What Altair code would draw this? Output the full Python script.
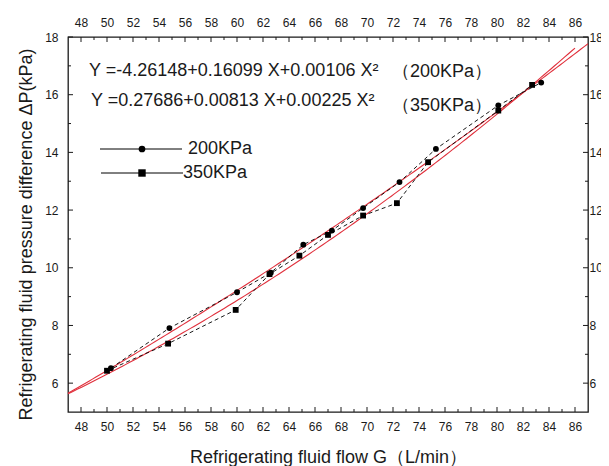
import altair as alt
import numpy as np
import pandas as pd

# ---- data ----
series_names = ["200KPa", "350KPa"]

flow_200 = [50.3, 54.8, 60.0, 62.6, 65.1, 67.3, 69.7, 72.5, 75.3, 80.1, 83.4]
dp_200 = [6.52, 7.91, 9.15, 9.83, 10.80, 11.29, 12.07, 12.97, 14.12, 15.63, 16.42]

flow_350 = [50.0, 54.7, 59.9, 62.5, 64.8, 67.0, 69.7, 72.3, 74.7, 80.1, 82.7]
dp_350 = [6.43, 7.37, 8.54, 9.78, 10.42, 11.14, 11.81, 12.24, 13.66, 15.45, 16.34]

# fitted quadratics printed on the chart: Y = a + b X + c X^2
fit_coef_200 = [-4.26148, 0.16099, 0.00106]
fit_coef_350 = [0.27686, 0.00813, 0.00225]
fit_range_200 = [47, 87]
fit_range_350 = [47, 86]

eq_texts = ["Y =-4.26148+0.16099 X+0.00106 X²", "Y =0.27686+0.00813 X+0.00225 X²"]
eq_tags = ["（200KPa）", "（350KPa）"]

x_title = "Refrigerating fluid flow G（L/min）"
y_title = "Refrigerating fluid pressure difference ΔP(kPa)"

x_major = list(range(48, 87, 2))
x_minor = list(range(49, 86, 2))
y_major = list(range(6, 19, 2))
y_minor = list(range(7, 18, 2))

# ---- layout / style ----
W, H = 520, 375
FONT = "Liberation Sans"
RED = "#e0303c"
INK = "#1a1a1a"

xs = alt.Scale(domain=[47, 87], nice=False, zero=False)
ys = alt.Scale(domain=[5, 18], nice=False, zero=False)

axis_common = dict(grid=False, ticks=False, tickSize=0, domain=False,
                   labelFont=FONT, labelFontSize=12, labelColor=INK,
                   labelFlush=False, labelOverlap=False)

pts = pd.DataFrame({
    "flow": flow_200 + flow_350,
    "dp": dp_200 + dp_350,
    "series": [series_names[0]] * len(flow_200) + [series_names[1]] * len(flow_350),
})


def fit_df(coef, rng, name):
    x = np.linspace(rng[0], rng[1], 150)
    y = coef[0] + coef[1] * x + coef[2] * x ** 2
    return pd.DataFrame({"flow": x, "dp": y, "series": name})


fits = pd.concat([fit_df(fit_coef_200, fit_range_200, series_names[0]),
                  fit_df(fit_coef_350, fit_range_350, series_names[1])])

fit_layer = alt.Chart(fits).mark_line(color=RED, strokeWidth=1.1).encode(
    x=alt.X("flow:Q", scale=xs, axis=alt.Axis(
        orient="bottom", values=x_major, labelPadding=9, title=x_title,
        titleFont=FONT, titleFontSize=18, titleFontWeight="normal", titleColor=INK,
        titleY=50, titleBaseline="alphabetic", **axis_common)),
    y=alt.Y("dp:Q", scale=ys, axis=alt.Axis(
        orient="left", values=y_major, labelPadding=10, title=y_title,
        titleFont=FONT, titleFontSize=18, titleFontWeight="normal", titleColor=INK,
        titleX=-37, titleY=197, titleAngle=270, titleBaseline="alphabetic",
        titleAlign="center", **axis_common)),
    detail="series:N",
)

dash_layer = alt.Chart(pts).mark_line(color="black", strokeWidth=0.9, strokeDash=[4, 3]).encode(
    x=alt.X("flow:Q", scale=xs, axis=None),
    y=alt.Y("dp:Q", scale=ys, axis=None),
    detail="series:N",
)

point_layer = alt.Chart(pts).mark_point(filled=True, color="black", opacity=1, size=34).encode(
    x=alt.X("flow:Q", scale=xs, axis=None),
    y=alt.Y("dp:Q", scale=ys, axis=None),
    shape=alt.Shape("series:N", scale=alt.Scale(domain=series_names, range=["circle", "square"]), legend=None),
)


def xticks(vals, length, top, axis):
    df = pd.DataFrame({"v": vals})
    if top:
        enc = dict(y=alt.value(0), y2=alt.value(length))
    else:
        enc = dict(y=alt.value(H), y2=alt.value(H - length))
    return alt.Chart(df).mark_rule(color=INK, strokeWidth=1).encode(
        x=alt.X("v:Q", scale=xs, axis=axis), **enc)


def yticks(vals, length, right, axis):
    df = pd.DataFrame({"v": vals})
    if right:
        enc = dict(x=alt.value(W), x2=alt.value(W - length))
    else:
        enc = dict(x=alt.value(0), x2=alt.value(length))
    return alt.Chart(df).mark_rule(color=INK, strokeWidth=1).encode(
        y=alt.Y("v:Q", scale=ys, axis=axis), **enc)


top_axis = alt.Axis(orient="top", values=x_major, labelPadding=8, title=None, **axis_common)
right_axis = alt.Axis(orient="right", values=y_major, labelPadding=1, title=None, **axis_common)

tick_layers = [
    xticks(x_major, 5, False, None), xticks(x_minor, 3, False, None),
    xticks(x_major, 5, True, top_axis), xticks(x_minor, 3, True, None),
    yticks(y_major, 5, False, None), yticks(y_minor, 3, False, None),
    yticks(y_major, 5, True, right_axis), yticks(y_minor, 3, True, None),
]

one = pd.DataFrame({"k": [0]})


def label(txt, x, y, size=18):
    return alt.Chart(one).mark_text(font=FONT, fontSize=size, color=INK, align="left",
                                    baseline="middle").encode(
        x=alt.value(x), y=alt.value(y), text=alt.value(txt))


text_layers = [
    label(eq_texts[0], 21, 34), label(eq_tags[0], 324, 35),
    label(eq_texts[1], 23, 64), label(eq_tags[1], 324, 69),
    label(series_names[0], 120, 112), label(series_names[1], 115, 136),
]

legend_lines = [
    alt.Chart(one).mark_rule(color="black", strokeWidth=1).encode(
        x=alt.value(32), x2=alt.value(114), y=alt.value(112)),
    alt.Chart(one).mark_rule(color="black", strokeWidth=1).encode(
        x=alt.value(33), x2=alt.value(115), y=alt.value(136)),
    alt.Chart(one).mark_point(filled=True, color="black", opacity=1, shape="circle", size=45).encode(
        x=alt.value(74), y=alt.value(112)),
    alt.Chart(one).mark_point(filled=True, color="black", opacity=1, shape="square", size=55).encode(
        x=alt.value(74), y=alt.value(136)),
]

chart = alt.layer(
    fit_layer, dash_layer, point_layer, *tick_layers, *text_layers, *legend_lines
).resolve_axis(x="independent", y="independent").properties(
    width=W, height=H,
    autosize=alt.AutoSizeParams(type="none"),
    padding={"left": 60, "top": 29, "right": 13, "bottom": 54},
    background="white",
).configure_view(stroke=INK, strokeWidth=1.3)

chart.save("out.html", embed_options={"renderer": "svg", "actions": False})
